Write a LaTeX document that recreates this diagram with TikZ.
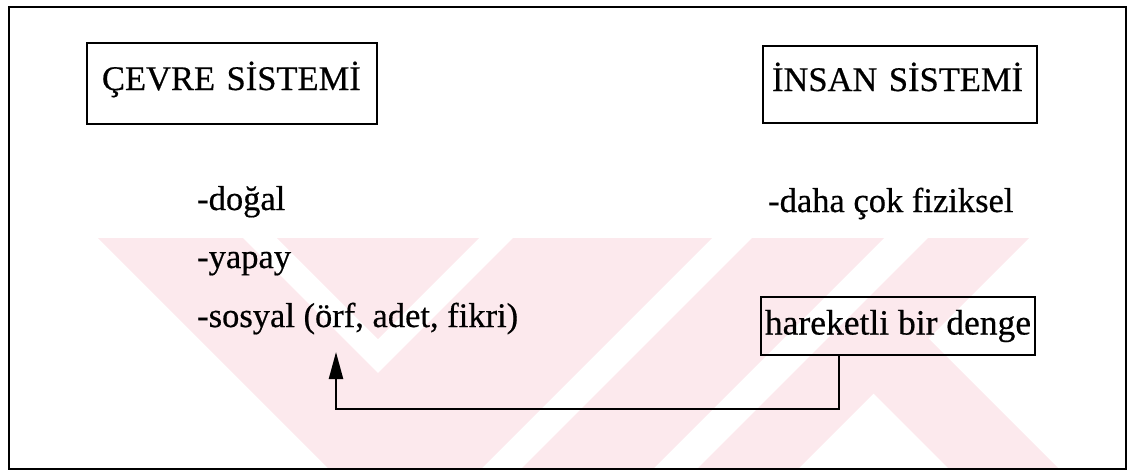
\documentclass[tikz,border=0pt]{standalone}
\usepackage{fontspec}
\setmainfont{Liberation Serif}[FakeBold=0.5]
\usetikzlibrary{arrows.meta}
\definecolor{wmpink}{RGB}{252,233,237}
\tikzset{
  txt/.style={font=\fontsize{34.5}{40}\selectfont, inner sep=0pt, anchor=base west},
  titlebox/.style={draw, line width=2.3pt, font=\fontsize{34.5}{40}\selectfont,
    text height=24pt, text depth=11pt, inner ysep=0pt, align=left},
  conn/.style={line width=2.3pt, -{Triangle[length=27pt,width=14pt]}},
  frame/.style={line width=2.3pt},
  wm/.style={fill=wmpink}
}
\begin{document}
\begin{tikzpicture}[x=1pt,y=-1pt]
\useasboundingbox (0,0) rectangle (1129,472);

% faint watermark
\begin{scope}
\clip (10,238) rectangle (1124,467);
\fill[wm] (98,238) -- (243,238) -- (378,373) -- (513,238) -- (712,238) -- (480,470) -- (330,470) -- cycle;
\fill[wm] (277,238) -- (479,238) -- (378,339) -- cycle;
\fill[wm] (752,238) -- (884,238) -- (652,470) -- (520,470) -- cycle;
\fill[wm] (928,238) -- (1029,238) -- (797,470) -- (696,470) -- cycle;
\fill[wm] (823,343) -- (928,338) -- (1060,470) -- (950,470) -- cycle;
\end{scope}

\draw[frame] (9,7) rectangle (1126,469);

\node[titlebox, inner xsep=15pt, text width=260pt, minimum height=81pt] (cevre) at (232,83.5) {ÇEVRE SİSTEMİ};
\node[titlebox, inner xsep=9pt, text width=256pt, minimum height=77pt] (insan) at (900,84.5) {İNSAN SİSTEMİ};

\node[txt] (dogal) at (197,210) {-doğal};
\node[txt] (yapay) at (197,268) {-yapay};
\node[txt] (sosyal) at (197,327) {-sosyal (örf, adet, fikri)};
\node[txt] (daha) at (768,212) {-daha çok fiziksel};

\node[draw, line width=2.3pt, font=\fontsize{35.5}{40}\selectfont, inner sep=0pt,
  minimum width=274pt, minimum height=58pt, text height=25pt, text depth=8pt] (denge) at (898,326) {hareketli bir denge};

\coordinate (src) at (839,0);
\coordinate (low) at (0,409);
\coordinate (tip) at (336,352);
\draw[conn] (src |- denge.south) |- (tip |- low) -- (tip);
\end{tikzpicture}
\end{document}
